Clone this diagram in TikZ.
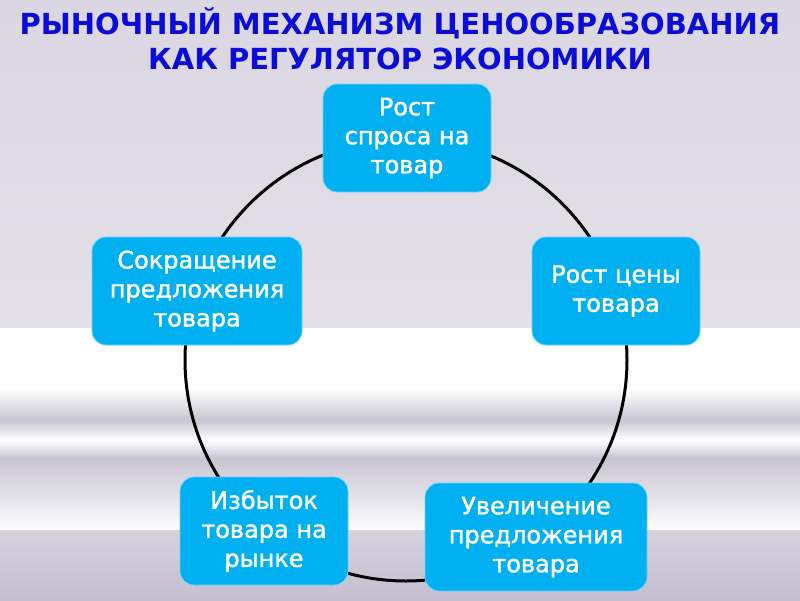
\documentclass[tikz,border=0pt]{standalone}
\usepackage{fontspec}
\setmainfont{DejaVu Sans}
\newfontfamily\stagefont[FakeBold=1.5]{DejaVu Sans}
\definecolor{boxblue}{RGB}{0,176,240}
\definecolor{titleblue}{RGB}{12,12,215}
\definecolor{bgA}{RGB}{218,214,226}
\definecolor{bgB}{RGB}{227,224,233}
\definecolor{bgC}{RGB}{200,196,210}
\definecolor{bgD}{RGB}{214,210,224}
\definecolor{bgE}{RGB}{196,190,208}
\tikzset{
  stage/.style={fill=boxblue, draw=boxblue!55!white, line width=0.8pt,
    rounded corners=14pt, text=white, align=center,
    minimum width=168pt, minimum height=108pt, inner sep=2pt,
    font=\stagefont\fontsize{24}{29}\selectfont},
  cycleline/.style={line width=3pt, black},
  heading/.style={text=titleblue, align=center,
    font=\fontsize{29}{35}\selectfont\bfseries}
}
\begin{document}
\begin{tikzpicture}[x=1pt,y=-1pt]
% background
\fill[top color=bgA, bottom color=bgB] (0,0) rectangle (800,328);
\fill[white] (0,328) rectangle (800,388);
\fill[top color=white, bottom color=bgC] (0,388) rectangle (800,420);
\fill[top color=bgC, bottom color=white] (0,420) rectangle (800,440);
\fill[top color=white, bottom color=bgC] (0,440) rectangle (800,458);
\fill[top color=bgC, bottom color=white!97!bgC] (0,458) rectangle (800,530);
\fill[top color=bgD, bottom color=bgE] (0,530) rectangle (800,600);
\useasboundingbox (0,0) rectangle (800,600);

\node[heading] (title) at (400,39) {РЫНОЧНЫЙ МЕХАНИЗМ ЦЕНООБРАЗОВАНИЯ\\КАК РЕГУЛЯТОР ЭКОНОМИКИ};

% cycle
\coordinate (mid) at (406,360);
\draw[cycleline] (mid) circle[radius=221pt];

\node[stage] (demand) at (407,138) {Рост\\спроса на\\товар};
\node[stage] (price) at (616,291) {Рост цены\\товара};
\node[stage, minimum width=222pt] (supply) at (536,537) {Увеличение\\предложения\\товара};
\node[stage] (surplus) at (264,531) {Избыток\\товара на\\рынке};
\node[stage, minimum width=210pt] (cut) at (197,291) {Сокращение\\предложения\\товара};
\end{tikzpicture}
\end{document}
